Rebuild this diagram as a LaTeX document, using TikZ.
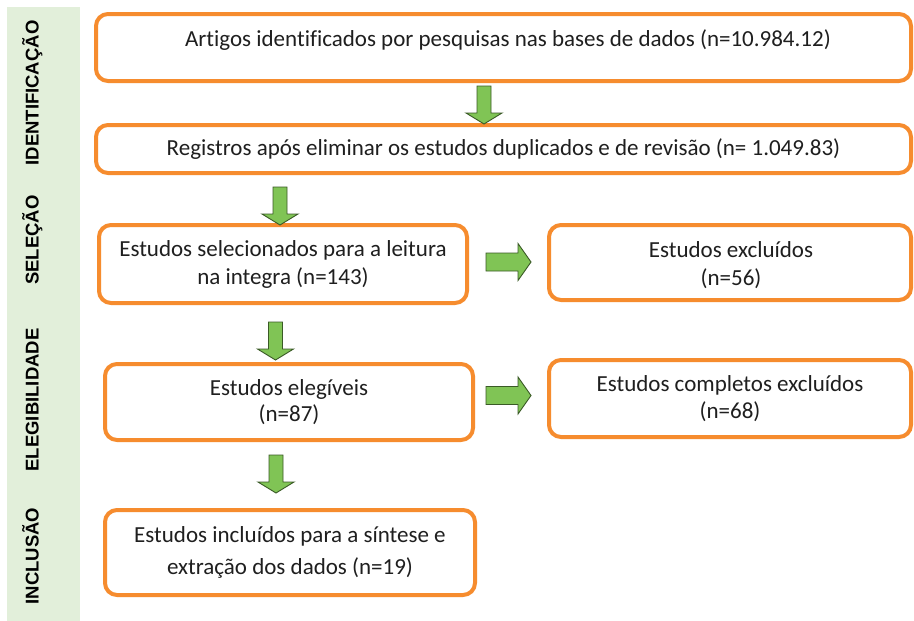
\documentclass[tikz,border=0pt]{standalone}
\usepackage{fontspec}
\setmainfont{Carlito}[Ligatures=NoCommon]
\newfontfamily\labelfont{Liberation Sans}
\definecolor{boxorange}{HTML}{F68C2E}
\definecolor{arrowgreen}{HTML}{80C455}
\definecolor{arrowedge}{HTML}{3A5A26}
\definecolor{bandgreen}{HTML}{E2EFDA}
\definecolor{txtcol}{HTML}{1F1F1F}
\begin{document}
\begin{tikzpicture}[x=1pt,y=-1pt,
  flowbox/.style={draw=boxorange, line width=4pt, rounded corners=12pt, fill=white,
    text=txtcol, align=center, font=\fontsize{23}{28}\selectfont, inner sep=0pt},
  flowtext/.style={text=txtcol, align=center, font=\fontsize{23}{28}\selectfont, inner sep=0pt},
  phase/.style={rotate=90, anchor=base, font=\labelfont\bfseries\fontsize{18.5}{20}\selectfont, text=black, inner sep=0pt},
  blockarrow/.style={fill=arrowgreen, draw=arrowedge, line width=0.9pt, line join=miter},
  darrow/.pic={\path[blockarrow] (-7,0) -- (7,0) -- (7,27) -- (18,27) -- (0,38) -- (-18,27) -- (-7,27) -- cycle;},
  rarrow/.pic={\path[blockarrow] (0,-9) -- (32,-9) -- (32,-18.5) -- (45,0) -- (32,18.5) -- (32,9) -- (0,9) -- cycle;}
]
\useasboundingbox (0,0) rectangle (914,621);
\fill[white] (0,0) rectangle (914,621);
% phase band
\fill[bandgreen] (7,7) rectangle (80,621);
\node[phase] (p1) at (38.5,93) {IDENTIFICAÇÃO};
\node[phase] (p2) at (38.5,240) {SELEÇÃO};
\node[phase] (p3) at (38.5,400) {ELEGIBILIDADE};
\node[phase] (p4) at (38.5,556) {INCLUSÃO};
% boxes
\node[flowbox, minimum width=815pt, minimum height=67pt] (b1) at (503.5,47.5) {};
\node[flowtext] (t1) at (508,40) {Artigos identificados por pesquisas nas bases de dados (n=10.984.12)};
\node[flowbox, minimum width=815pt, minimum height=48pt] (b2) at (503.5,149)
  {Registros após eliminar os estudos duplicados e de revisão (n= 1.049.83)};
\node[flowbox, minimum width=368pt, minimum height=78pt, font=\fontsize{23}{28}\selectfont] (b3) at (283,264)
  {Estudos selecionados para a leitura\\na integra (n=143)};
\node[flowbox, minimum width=362pt, minimum height=75pt] (b4) at (730,262.5) {};
\node[flowtext] (t4) at (731,265.5) {Estudos excluídos\\(n=56)};
\node[flowbox, minimum width=368pt, minimum height=76pt, font=\fontsize{23}{26}\selectfont] (b5) at (289,402)
  {Estudos elegíveis\\(n=87)};
\node[flowbox, minimum width=362pt, minimum height=77pt, font=\fontsize{23}{27}\selectfont] (b6) at (730,398.5)
  {Estudos completos excluídos\\(n=68)};
\node[flowbox, minimum width=370pt, minimum height=85pt, font=\fontsize{23}{32}\selectfont] (b7) at (290,552.5)
  {Estudos incluídos para a síntese e\\extração dos dados (n=19)};
% block arrows
\pic at (484,86) {darrow};
\pic at (280,187) {darrow};
\pic at (275.5,322) {darrow};
\pic at (276,455) {darrow};
\pic at (486,262) {rarrow};
\pic at (486,395.5) {rarrow};
\end{tikzpicture}
\end{document}
